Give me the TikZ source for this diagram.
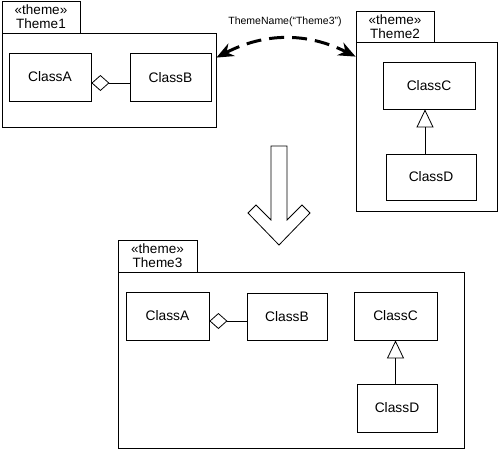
\documentclass[tikz,border=0pt]{standalone}
\usepackage{fontspec}
\setmainfont{Liberation Sans}
\usepackage{tikz}
\usetikzlibrary{arrows.meta,positioning}
\tikzset{
    classnode/.style={
        rectangle,
        draw,
        line width=0.8pt,
        minimum width=82pt,
        minimum height=48pt,
        inner sep=0pt,
        text centered,
        font=\fontsize{13.8}{15}\selectfont
    },
    pkgtab/.style={
        rectangle,
        draw,
        line width=0.8pt,
        minimum width=78pt,
        minimum height=32pt,
        inner sep=0pt,
        align=center,
        font=\fontsize{13.5}{14}\selectfont
    },
    pkgbody/.style={
        rectangle,
        draw,
        line width=0.8pt,
        inner sep=0pt
    },
    aggregation/.style={
        {Diamond[open,length=18pt,width=16pt]}-,
        line width=0.8pt
    },
    generalization/.style={
        -{Triangle[open,length=18pt,width=17pt]},
        line width=0.8pt
    },
    themelink/.style={
        {Stealth[length=17pt,width=14pt]}-{Stealth[length=17pt,width=14pt]},
        line width=3pt,
        dash pattern=on 15pt off 8pt,
        bend left=27
    }
}

\begin{document}
\begin{tikzpicture}[x=1pt,y=-1pt]
    \useasboundingbox (0,0) rectangle (500,450);

    % Theme1 package
    \node[pkgbody, minimum width=214pt, minimum height=94pt] (t1body) at (109,80) {};
    \node[pkgtab] (t1tab) at (41,17) {«theme»\\Theme1};
    \node[classnode] (t1a) at (50,77) {ClassA};
    \node[classnode, minimum width=81pt] (t1b) at (170.5,77.5) {ClassB};
    \draw[aggregation] ([yshift=-6pt]t1a.east) -- ([yshift=-6pt]t1a.east -| t1b.west);

    % Theme2 package
    \node[pkgbody, minimum width=141pt, minimum height=169pt] (t2body) at (426.5,126.5) {};
    \node[pkgtab, minimum height=31pt] (t2tab) at (395,26.5) {«theme»\\Theme2};
    \node[classnode, minimum width=92pt, minimum height=47pt] (t2c) at (429,85.5) {ClassC};
    \node[classnode, minimum width=90pt, minimum height=46pt] (t2d) at (431,177) {ClassD};
    \draw[generalization] ([xshift=-4pt]t2c.south |- t2d.north) -- ([xshift=-4pt]t2c.south);

    % Theme name link
    \node[font=\fontsize{10.5}{12}\selectfont] (tname) at (285,22) {ThemeName(“Theme3”)};
    \draw[themelink] ([yshift=-25pt]t1body.north east) to ([yshift=-15pt]t2body.north west);

    % Merge arrow
    \draw[line width=0.8pt] (271,146) -- (287,146) -- (287,220) -- (302,205) -- (310,213)
        -- (279,245) -- (248,213) -- (256,205) -- (271,220) -- cycle;

    % Theme3 package
    \node[pkgbody, minimum width=346pt, minimum height=176pt] (t3body) at (291,360) {};
    \node[pkgtab, minimum width=79pt] (t3tab) at (157.5,256) {«theme»\\Theme3};
    \node[classnode, minimum width=83pt] (t3a) at (167.5,316) {ClassA};
    \node[classnode, minimum width=80pt, minimum height=47pt] (t3b) at (287,316.5) {ClassB};
    \node[classnode, minimum width=83pt] (t3c) at (395.5,316) {ClassC};
    \node[classnode, minimum width=80pt] (t3d) at (397,408) {ClassD};
    \draw[aggregation] ([yshift=-5pt]t3a.east) -- ([yshift=-5pt]t3a.east -| t3b.west);
    \draw[generalization] (t3c.south |- t3d.north) -- (t3c.south);
\end{tikzpicture}
\end{document}
